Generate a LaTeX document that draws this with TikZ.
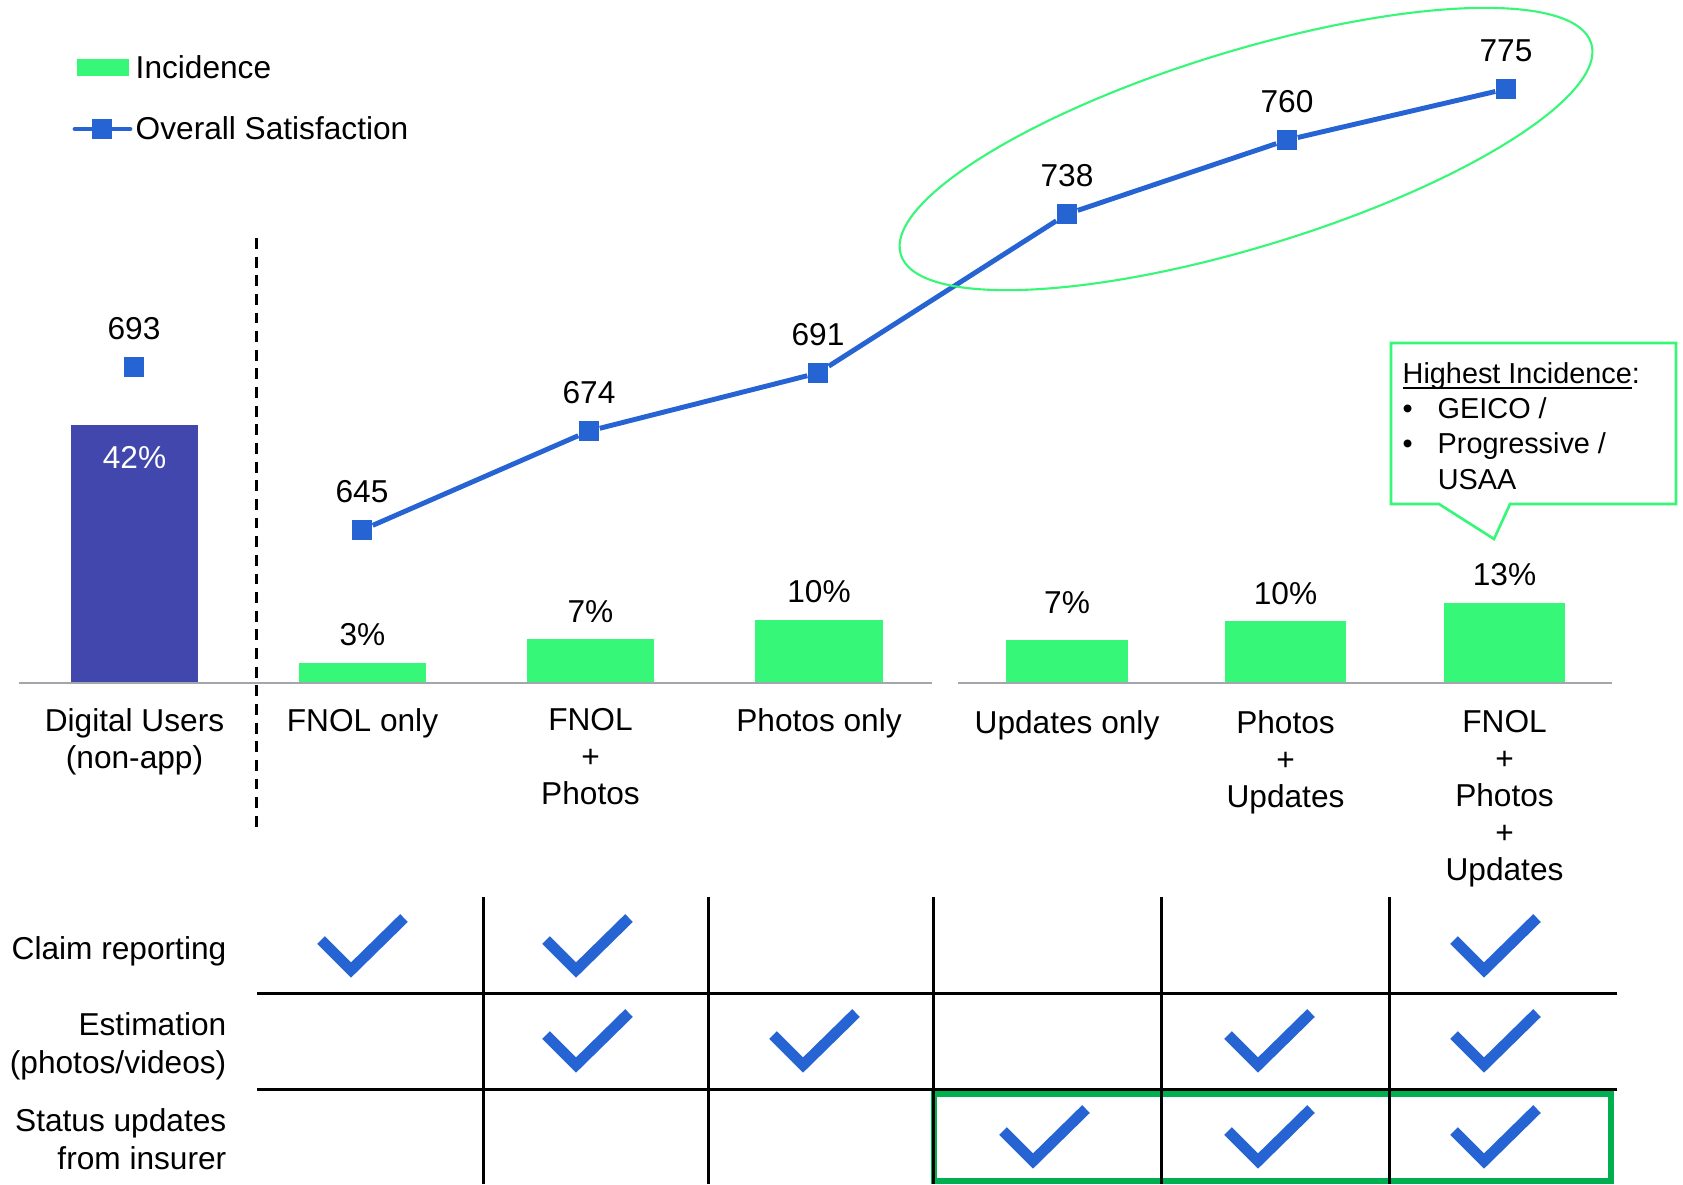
\documentclass[tikz,border=0pt]{standalone}
\usepackage{fontspec}
\setmainfont{Liberation Sans}
\usetikzlibrary{positioning}

\definecolor{incgreen}{RGB}{54,247,120}
\definecolor{userblue}{RGB}{66,71,174}
\definecolor{satblue}{RGB}{38,100,212}
\definecolor{boxgreen}{RGB}{0,176,80}
\definecolor{axisgray}{RGB}{163,167,172}

\newlength\ulinewd
\newcommand{\ulinetext}[1]{\settowidth{\ulinewd}{#1}\rlap{\rule[-1.6pt]{\ulinewd}{0.5pt}}#1}

\begin{document}
\begin{tikzpicture}[x=0.01cm, y=-0.01cm,
        every node/.style={inner sep=0pt, font=\fontsize{9}{10.5}\selectfont},
        incbar/.style={fill=incgreen, anchor=south, minimum width=1.27cm},
        satmark/.style={fill=satblue, minimum size=0.2cm},
        satline/.style={satblue, line width=1.4pt},
        axisline/.style={axisgray, line width=0.7pt},
        tablerule/.style={black, line width=0.85pt},
        tickmark/.style={satblue, line width=3.1pt},
        catlabel/.style={align=center},
        rowlabel/.style={align=right, anchor=north east, font=\fontsize{9}{10.8}\selectfont}]
        \useasboundingbox (0,0) rectangle (1683,1184);

        % legend
        \fill[incgreen] (77,59) rectangle (129,76);
        \node[anchor=base west] (leginc) at (135,78) {Incidence};
        \draw[satline, line cap=round] (75,129) -- (130,129);
        \node[satmark] (legmark) at (102,129) {};
        \node[anchor=base west] (legsat) at (135,139) {Overall Satisfaction};

        % incidence bars
        \node[incbar, fill=userblue, minimum height=2.57cm] (b0) at (134.5,683) {};
        \node[incbar, minimum height=0.19cm] (b1) at (362.5,683) {};
        \node[incbar, minimum height=0.43cm] (b2) at (590.5,683) {};
        \node[incbar, minimum height=0.62cm] (b3) at (819,683) {};
        \node[incbar, minimum height=0.42cm, minimum width=1.21cm] (b4) at (1067,683) {};
        \node[incbar, minimum height=0.61cm, minimum width=1.21cm] (b5) at (1285.5,683) {};
        \node[incbar, minimum height=0.79cm, minimum width=1.21cm] (b6) at (1504.5,683) {};

        \node[text=white, below=0.21cm of b0.north] (p0) {42\%};
        \node[above=0.16cm of b1] (p1) {3\%};
        \node[above=0.15cm of b2] (p2) {7\%};
        \node[above=0.16cm of b3] (p3) {10\%};
        \node[above=0.25cm of b4] (p4) {7\%};
        \node[above=0.15cm of b5] (p5) {10\%};
        \node[above=0.16cm of b6] (p6) {13\%};

        \draw[axisline] (19,683) -- (932,683);
        \draw[axisline] (958,683) -- (1612,683);
        \draw[black, line width=0.85pt, dash pattern=on 3.1pt off 2.2pt] (256,238) -- (256,834);

        \node[catlabel, below=0.25cm of b0] (c0) {Digital Users\\(non-app)};
        \node[catlabel, below=0.25cm of b1] (c1) {FNOL only};
        \node[catlabel, below=0.25cm of b2] (c2) {FNOL\\+\\Photos};
        \node[catlabel, below=0.25cm of b3] (c3) {Photos only};
        \node[catlabel, below=0.27cm of b4] (c4) {Updates only};
        \node[catlabel, below=0.27cm of b5] (c5) {Photos\\+\\Updates};
        \node[catlabel, below=0.27cm of b6] (c6) {FNOL\\+\\Photos\\+\\Updates};

        % overall satisfaction
        \node[satmark] (s0) at (134,367) {};
        \node[satmark] (s1) at (362,530) {};
        \node[satmark] (s2) at (589,431) {};
        \node[satmark] (s3) at (818,373) {};
        \node[satmark] (s4) at (1067,214) {};
        \node[satmark] (s5) at (1287,140) {};
        \node[satmark] (s6) at (1506,89) {};
        \draw[satline] (s1) -- (s2) -- (s3) -- (s4) -- (s5) -- (s6);

        \node[above=0.16cm of s0] (v0) {693};
        \node[above=0.16cm of s1] (v1) {645};
        \node[above=0.16cm of s2] (v2) {674};
        \node[above=0.16cm of s3] (v3) {691};
        \node[above=0.16cm of s4] (v4) {738};
        \node[above=0.16cm of s5] (v5) {760};
        \node[above=0.16cm of s6] (v6) {775};

        \draw[incgreen, line width=0.6pt, rotate around={17:(1246,149)}] (1246,149) ellipse [x radius=361, y radius=98];

        % callout
        \draw[incgreen, line width=0.75pt] (1391,343) -- (1676,343) -- (1676,504) -- (1510,504)
            -- (1494,539) -- (1439,504) -- (1391,504) -- cycle;
        \node[anchor=north west, align=left, font=\fontsize{8.2}{10}\selectfont] (callout) at (1402,362)
            {\ulinetext{Highest Incidence}:\\\makebox[0.35cm][l]{\textbullet}GEICO /\\\makebox[0.35cm][l]{\textbullet}Progressive /\\\hspace*{0.35cm}USAA};

        % feature table
        \draw[boxgreen, line width=1.7pt] (934,1094) rectangle (1611,1181);
        \draw[tablerule] (257,993) -- (1617,993);
        \draw[tablerule] (257,1089) -- (1617,1089);
        \draw[tablerule] (483,897) -- (483,1184);
        \draw[tablerule] (708,897) -- (708,1184);
        \draw[tablerule] (933,897) -- (933,1184);
        \draw[tablerule] (1161,897) -- (1161,1184);
        \draw[tablerule] (1389,897) -- (1389,1184);

        \node[rowlabel] (r1) at (227,936) {Claim reporting};
        \node[rowlabel] (r2) at (227,1012) {Estimation\\(photos/videos)};
        \node[rowlabel] (r3) at (227,1108) {Status updates\\from insurer};

        \draw[tickmark] (351,970) ++(-30,-30) -- ++(30,30) -- ++(53,-52);
        \draw[tickmark] (576,970) ++(-30,-30) -- ++(30,30) -- ++(53,-52);
        \draw[tickmark] (1484,970) ++(-30,-30) -- ++(30,30) -- ++(53,-52);
        \draw[tickmark] (576,1065) ++(-30,-30) -- ++(30,30) -- ++(53,-52);
        \draw[tickmark] (803,1065) ++(-30,-30) -- ++(30,30) -- ++(53,-52);
        \draw[tickmark] (1258,1065) ++(-30,-30) -- ++(30,30) -- ++(53,-52);
        \draw[tickmark] (1484,1065) ++(-30,-30) -- ++(30,30) -- ++(53,-52);
        \draw[tickmark] (1033,1161) ++(-30,-30) -- ++(30,30) -- ++(53,-52);
        \draw[tickmark] (1258,1161) ++(-30,-30) -- ++(30,30) -- ++(53,-52);
        \draw[tickmark] (1484,1161) ++(-30,-30) -- ++(30,30) -- ++(53,-52);
    \end{tikzpicture}
\end{document}
